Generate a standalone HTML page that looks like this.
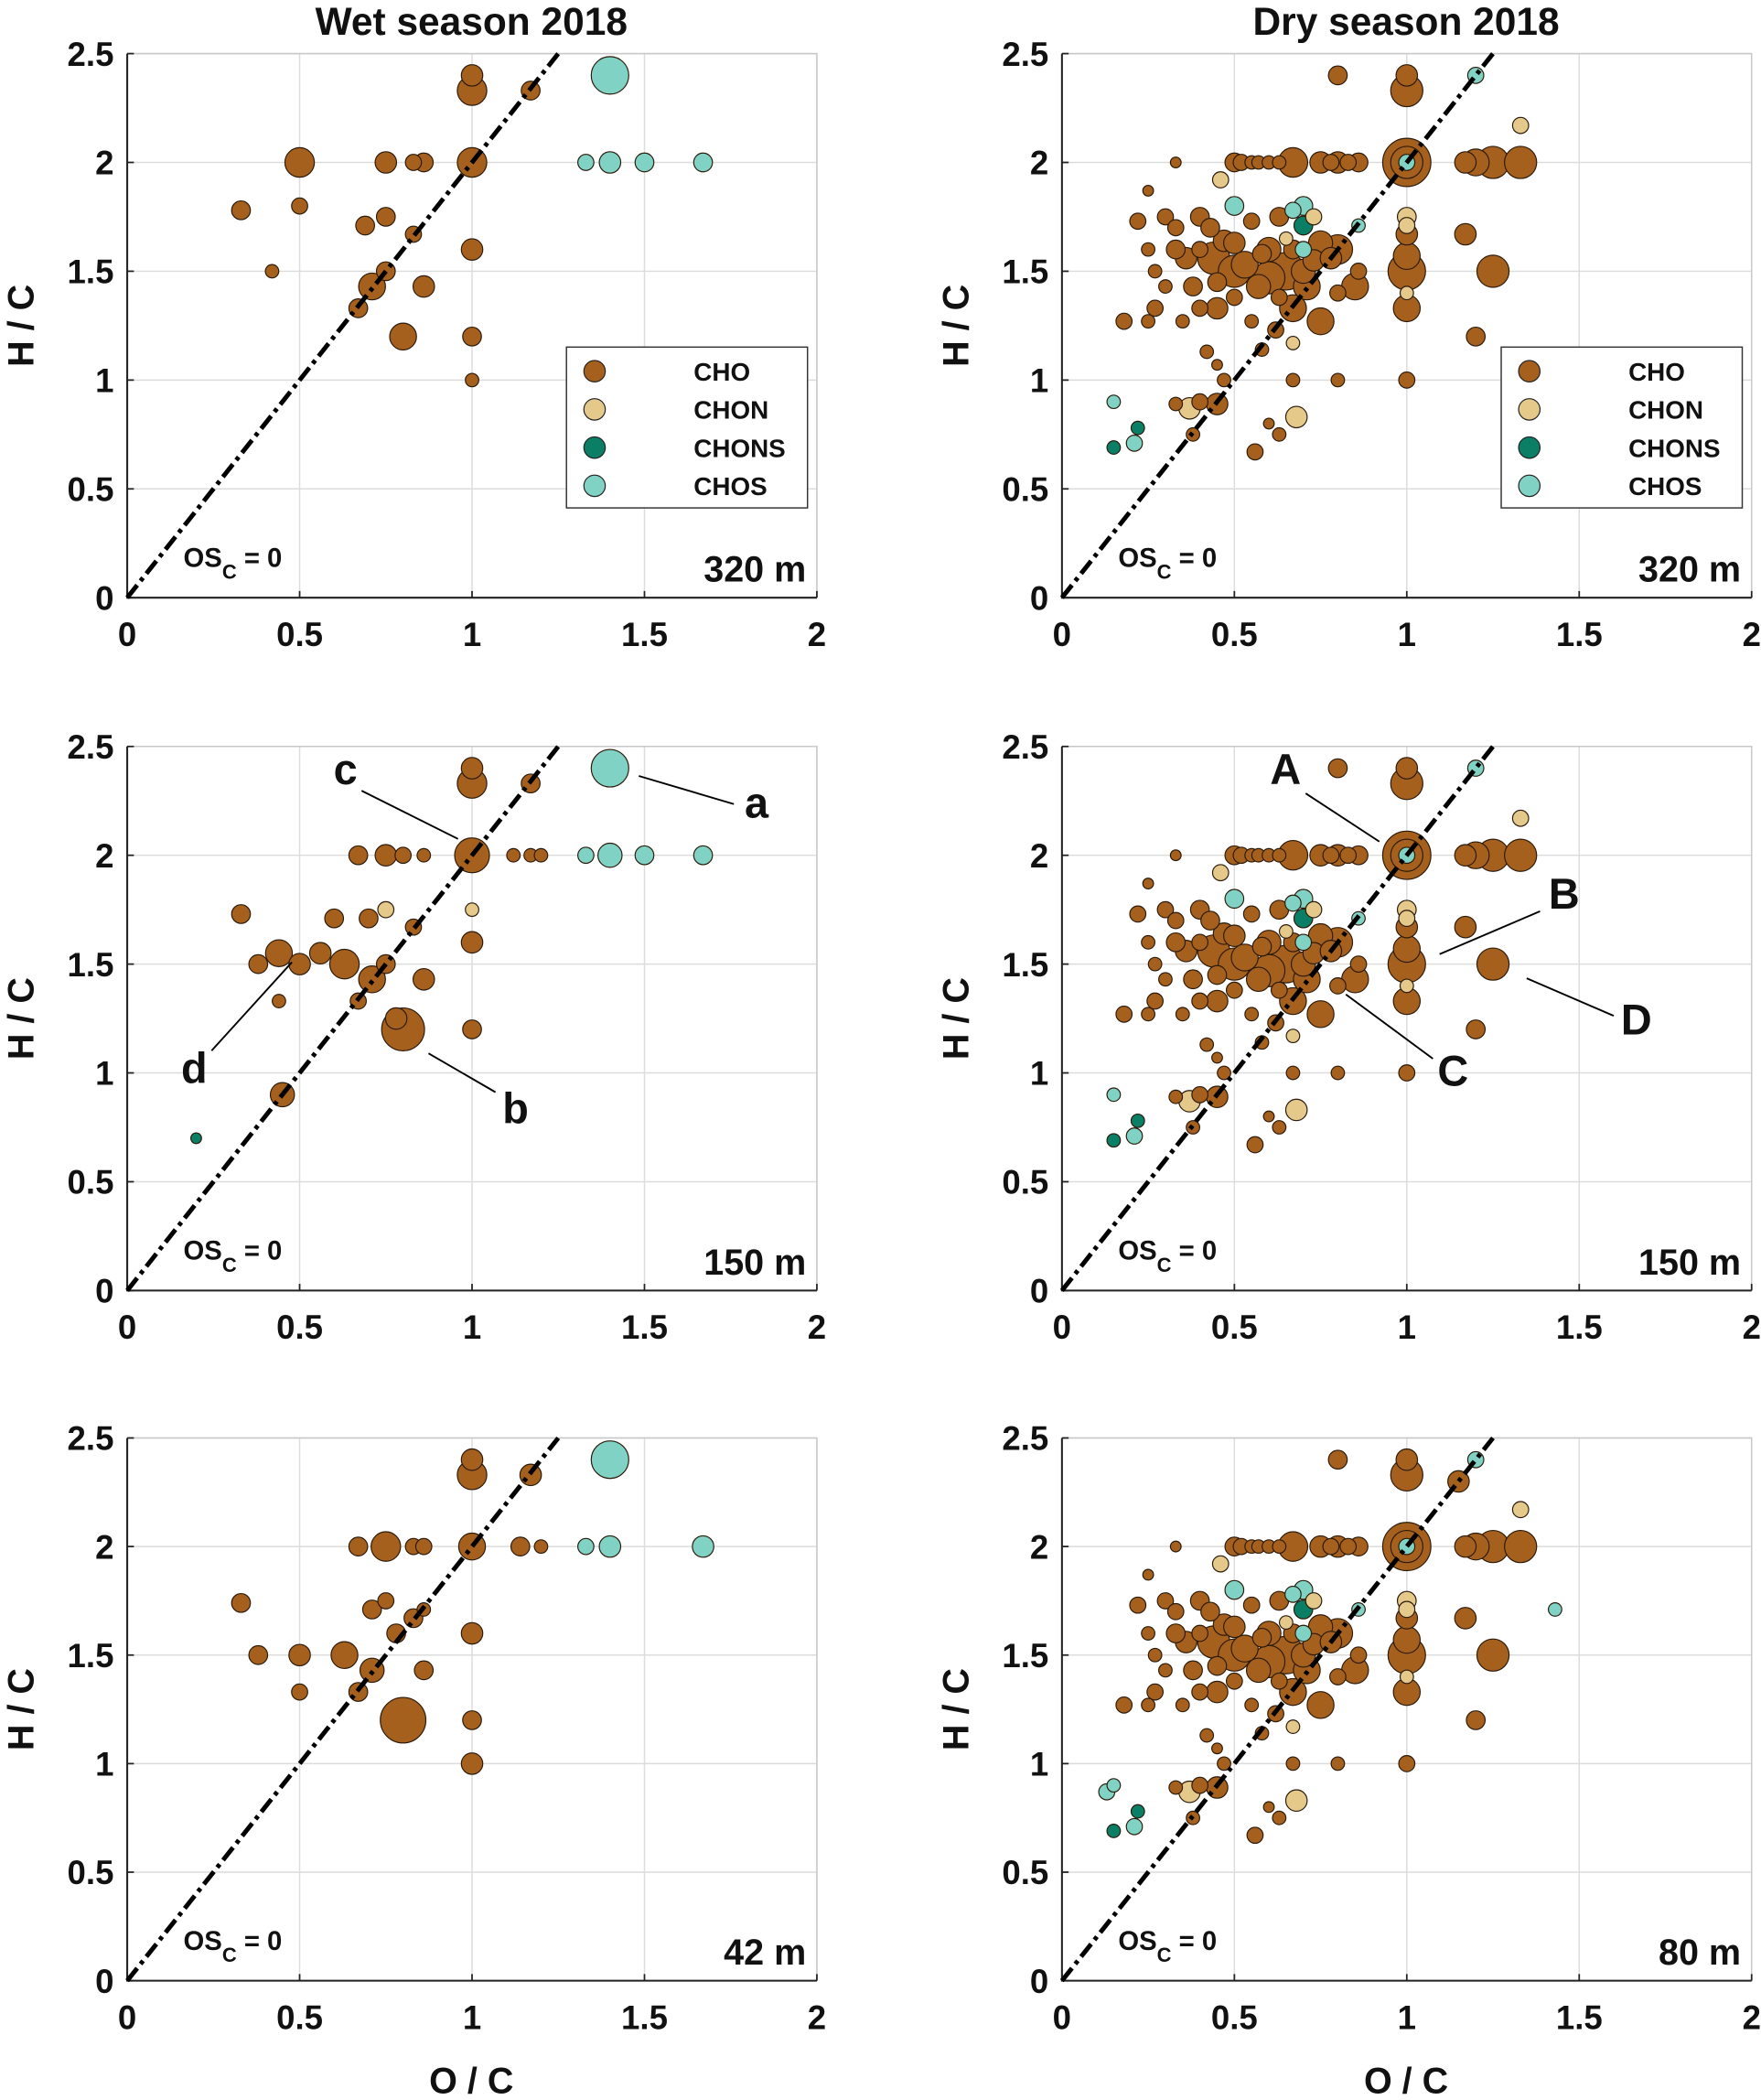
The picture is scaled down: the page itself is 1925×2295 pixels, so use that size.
<!DOCTYPE html>
<html><head><meta charset="utf-8">
<style>
html,body{margin:0;padding:0;background:#fff;}
svg{display:block;}
text{font-family:"Liberation Sans",sans-serif;font-weight:bold;fill:#111;}
</style></head>
<body>
<svg id="fig" width="1925" height="2295" viewBox="0 0 1315 1567" preserveAspectRatio="none" xmlns="http://www.w3.org/2000/svg"></svg>
<script>
// ---- data: [O/C, H/C, markerRadius, class] ----
const classes = ["CHO","CHON","CHONS","CHOS"];
const classColors = ["#a6601d","#e4c98b","#0b7e66","#80d3c4"];
const xTicks = [0,0.5,1,1.5,2];
const yTicks = [0,0.5,1,1.5,2,2.5];
const xTickLabels = ["0","0.5","1","1.5","2"];
const yTickLabels = ["0","0.5","1","1.5","2","2.5"];

const wet320 = [
[0.33,1.78,7,0],[0.42,1.5,5,0],[0.5,2.0,11,0],[0.5,1.8,6,0],[0.67,1.33,7,0],[0.69,1.71,7,0],[0.71,1.43,10,0],
[0.75,1.75,7,0],[0.75,1.5,7,0],[0.75,2.0,8,0],[0.8,1.2,10,0],[0.83,1.67,6,0],[0.83,2.0,6,0],[0.86,2.0,7,0],[0.86,1.43,8,0],
[1,2.4,8,0],[1,2.33,11,0],[1,2.0,11,0],[1,1.6,8,0],[1,1.2,7,0],[1,1.0,5,0],[1.17,2.33,7,0],
[1.4,2.4,14,3],[1.33,2.0,6,3],[1.4,2.0,8,3],[1.5,2.0,7,3],[1.67,2.0,7,3]];
const wet150 = [
[0.33,1.73,7,0],[0.38,1.5,7,0],[0.44,1.55,10,0],[0.5,1.5,8,0],[0.44,1.33,5,0],[0.56,1.55,8,0],[0.6,1.71,7,0],
[0.63,1.5,11,0],[0.67,1.33,6,0],[0.67,2.0,7,0],[0.71,1.43,10,0],[0.75,2.0,8,0],[0.75,1.5,7,0],[0.8,2.0,6,0],
[0.78,1.25,8,0],[0.8,1.2,16,0],[0.83,1.67,6,0],[0.86,1.43,8,0],[0.45,0.9,9,0],[0.7,1.71,7,0],[0.86,2.0,5,0],
[1,2.4,8,0],[1,2.33,11,0],[1,2.0,13,0],[1,1.6,8,0],[1,1.2,7,0],[1.12,2.0,5,0],[1.17,2.0,5,0],[1.2,2.0,5,0],[1.17,2.33,7,0],
[0.75,1.75,6,1],[1,1.75,5,1],[0.2,0.7,4,2],
[1.4,2.4,14,3],[1.33,2.0,6,3],[1.4,2.0,9,3],[1.5,2.0,7,3],[1.67,2.0,7,3]];
const wet42 = [
[0.33,1.74,7,0],[0.38,1.5,7,0],[0.5,1.5,8,0],[0.5,1.33,6,0],[0.63,1.5,10,0],[0.67,1.33,7,0],[0.67,2.0,7,0],
[0.71,1.71,7,0],[0.71,1.43,9,0],[0.75,2.0,11,0],[0.75,1.75,6,0],[0.78,1.6,7,0],[0.8,1.2,17,0],[0.83,1.67,7,0],
[0.86,1.71,5,0],[0.83,2.0,6,0],[0.86,2.0,6,0],[0.86,1.43,7,0],[1,2.4,8,0],[1,2.33,11,0],[1,2.0,10,0],
[1,1.6,8,0],[1,1.2,7,0],[1,1.0,8,0],[1.17,2.33,8,0],[1.14,2.0,7,0],[1.2,2.0,5,0],
[1.4,2.4,14,3],[1.33,2.0,6,3],[1.4,2.0,8,3],[1.67,2.0,8,3]];
const dryBase = [
[0.33,2.0,4,0],[0.25,1.87,4,0],[0.5,2,7,0],[0.52,2,6,0],[0.55,2,5,0],[0.57,2,5,0],[0.6,2,5,0],[0.63,2,5,0],
[0.67,2,11,0],[0.75,2,8,0],[0.78,2,6,0],[0.8,2,8,0],[0.83,2,6,0],[0.86,2,7,0],[1,2,18,0],[1,2,12,0],
[1.17,2,8,0],[1.2,2,10,0],[1.25,2,12,0],[1.33,2,12,0],[0.8,2.4,7,0],[1,2.4,8,0],[1,2.33,12,0],
[0.22,1.73,6,0],[0.25,1.6,5,0],[0.27,1.5,5,0],[0.3,1.75,6,0],[0.3,1.43,5,0],[0.33,1.6,7,0],[0.33,1.7,6,0],
[0.36,1.56,8,0],[0.38,1.43,7,0],[0.4,1.6,6,0],[0.4,1.75,7,0],[0.43,1.7,7,0],[0.44,1.56,12,0],[0.45,1.45,7,0],
[0.45,1.33,8,0],[0.47,1.64,8,0],[0.5,1.5,12,0],[0.5,1.63,8,0],[0.5,1.38,6,0],[0.53,1.53,10,0],[0.55,1.73,6,0],
[0.57,1.43,9,0],[0.58,1.58,7,0],[0.6,1.47,12,0],[0.6,1.6,9,0],[0.63,1.75,7,0],[0.63,1.38,6,0],[0.65,1.5,14,0],
[0.67,1.33,10,0],[0.67,1.6,7,0],[0.7,1.5,9,0],[0.71,1.43,10,0],[0.73,1.55,8,0],[0.75,1.63,9,0],[0.75,1.27,10,0],
[0.78,1.56,8,0],[0.8,1.6,11,0],[0.8,1.4,6,0],[0.85,1.43,10,0],[0.86,1.5,6,0],[0.18,1.27,6,0],[0.25,1.27,5,0],
[0.27,1.33,6,0],[0.35,1.27,5,0],[0.4,1.33,6,0],[0.42,1.13,5,0],[0.55,1.27,5,0],[0.58,1.14,5,0],[0.62,1.23,6,0],
[0.47,1.0,5,0],[0.45,1.07,4,0],[0.33,0.89,5,0],[0.4,0.9,6,0],[0.45,0.89,8,0],[0.38,0.75,5,0],[0.56,0.67,6,0],
[0.63,0.75,5,0],[0.6,0.8,4,0],[0.67,1.0,5,0],[0.8,1.0,5,0],[1,1.0,6,0],[1.2,1.2,7,0],[1.17,1.67,8,0],
[1,1.33,10,0],[1,1.5,14,0],[1,1.57,10,0],[1,1.67,8,0],[1.25,1.5,12,0],
[0.37,0.87,8,1],[0.68,0.83,8,1],[0.46,1.92,6,1],[0.67,1.17,5,1],[0.73,1.75,6,1],[1,1.75,7,1],[1,1.71,6,1],
[1,1.4,5,1],[1.33,2.17,6,1],[0.65,1.65,5,1],
[0.15,0.69,5,2],[0.22,0.78,5,2],[0.7,1.71,7,2],
[0.15,0.9,5,3],[0.21,0.71,6,3],[0.5,1.8,7,3],[0.7,1.6,6,3],[0.67,1.78,6,3],[0.7,1.8,7,3],[0.86,1.71,5,3],[1,2.0,6,3],[1.2,2.4,6,3]];
const dry320 = dryBase;
const dry150 = dryBase;
const dry80 = dryBase.concat([[1.43,1.71,5,3],[0.13,0.87,6,3],[1.15,2.3,8,0]]);

// ---- layout ----
const NS="http://www.w3.org/2000/svg";
const svg=document.getElementById('fig');
function mk(tag,attrs,parent){const e=document.createElementNS(NS,tag);for(const k in attrs)e.setAttribute(k,attrs[k]);(parent||svg).appendChild(e);return e;}
const colsX=[[95,610],[793,1308]];
const rowsY=[[446,40],[963,557],[1478,1073]];
const panels=[
 {c:0,r:0,data:wet320,alt:"320 m",legend:true,name:"wet-320m"},
 {c:1,r:0,data:dry320,alt:"320 m",legend:true,name:"dry-320m"},
 {c:0,r:1,data:wet150,alt:"150 m",name:"wet-150m"},
 {c:1,r:1,data:dry150,alt:"150 m",name:"dry-150m"},
 {c:0,r:2,data:wet42,alt:"42 m",name:"wet-42m"},
 {c:1,r:2,data:dry80,alt:"80 m",name:"dry-80m"}];

panels.forEach(p=>{
  const [x0,x1]=colsX[p.c],[y0,y1]=rowsY[p.r];
  const sx=v=>x0+(x1-x0)*v/2, sy=v=>y0-(y0-y1)*v/2.5;
  const g=mk('g',{});
  
  
  xTicks.forEach(t=>{const l=mk('line',{x1:sx(t),x2:sx(t),y1:y0,y2:y1,stroke:'#dcdcdc','stroke-width':1},g);});
  yTicks.forEach(t=>{const l=mk('line',{x1:x0,x2:x1,y1:sy(t),y2:sy(t),stroke:'#dcdcdc','stroke-width':1},g);});
  const b=mk('path',{d:`M${x0},${y1}H${x1}V${y0}`,fill:'none',stroke:'#c8c8c8','stroke-width':1},g);
  
  const ax=mk('path',{d:`M${x0},${y1}V${y0}H${x1}`,fill:'none',stroke:'#222','stroke-width':1.4},g);
  
  xTicks.forEach((t,i)=>{
    mk('line',{x1:sx(t),x2:sx(t),y1:y0,y2:y0-5,stroke:'#222','stroke-width':1.2},g);
    const tx=mk('text',{x:sx(t),y:y0+36,'text-anchor':'middle','font-size':25},g);tx.textContent=xTickLabels[i];
    
  });
  yTicks.forEach((t,i)=>{
    mk('line',{x1:x0,x2:x0+5,y1:sy(t),y2:sy(t),stroke:'#222','stroke-width':1.2},g);
    const tx=mk('text',{x:x0-10,y:sy(t)+9,'text-anchor':'end','font-size':25},g);tx.textContent=yTickLabels[i];
    
  });
  const pts=p.data.slice().sort((a,b)=>b[2]-a[2]);
  pts.forEach(d=>{
    const c=mk('circle',{cx:sx(d[0]),cy:sy(d[1]),r:d[2],fill:classColors[d[3]],stroke:'#2a1a0a','stroke-width':0.8},g);
    
    
  });
  const dl=mk('line',{x1:sx(0),y1:sy(0),x2:sx(1.25),y2:sy(2.5),stroke:'#000','stroke-width':3.4,'stroke-dasharray':'12,4,3,4'},g);
  
  const os=mk('text',{x:x0+42,y:y0-23,'font-size':20},g);
  os.innerHTML='OS<tspan dy="9" font-size="15">C</tspan><tspan dy="-9"> = 0</tspan>';
  
  const al=mk('text',{x:x1-8,y:y0-12,'text-anchor':'end','font-size':27},g);al.textContent=p.alt;
  
  const yl=mk('text',{x:0,y:0,'text-anchor':'middle','font-size':27,transform:`translate(${x0-70},${(y0+y1)/2}) rotate(-90)`},g);yl.textContent='H / C';
  
  if(p.legend){
    const lg=mk('g',{},g);
    const lx=x0+328;
    mk('rect',{x:lx,y:259,width:180,height:120,fill:'#fff',stroke:'#333','stroke-width':1},lg);
    classes.forEach((cl,i)=>{
      const e=mk('g',{},lg);
      mk('circle',{cx:lx+21,cy:277+i*28.5,r:8,fill:classColors[i],stroke:'#222','stroke-width':0.8},e);
      const t=mk('text',{x:lx+95,y:284+i*28.5,'font-size':19},e);t.textContent=cl;
    });
  }
});
[[352,'Wet season 2018','wet-season-title'],[1050,'Dry season 2018','dry-season-title']].forEach(a=>{
  const t=mk('text',{x:a[0],y:26,'text-anchor':'middle','font-size':29});t.textContent=a[1];
  
});
[[352,'x-axis-title-left'],[1050,'x-axis-title-right']].forEach(a=>{
  const t=mk('text',{x:a[0],y:1562,'text-anchor':'middle','font-size':27});t.textContent='O / C';
  
});
const ann=[['c',258,585,[270,590,342,626]],['a',565,610,[477,579,548,600]],['d',145,808,[158,784,218,718]],['b',385,838,[320,786,370,815]],
['A',960,585,[975,592,1030,628]],['B',1168,678,[1150,680,1075,712]],['C',1085,810,[1070,790,1005,742]],['D',1222,772,[1205,758,1140,730]]];
ann.forEach(a=>{
  const l=mk('line',{x1:a[3][0],y1:a[3][1],x2:a[3][2],y2:a[3][3],stroke:'#000','stroke-width':1.3});
  
  const t=mk('text',{x:a[1],y:a[2],'text-anchor':'middle','font-size':32});t.textContent=a[0];
  
});
</script>
</body></html>
